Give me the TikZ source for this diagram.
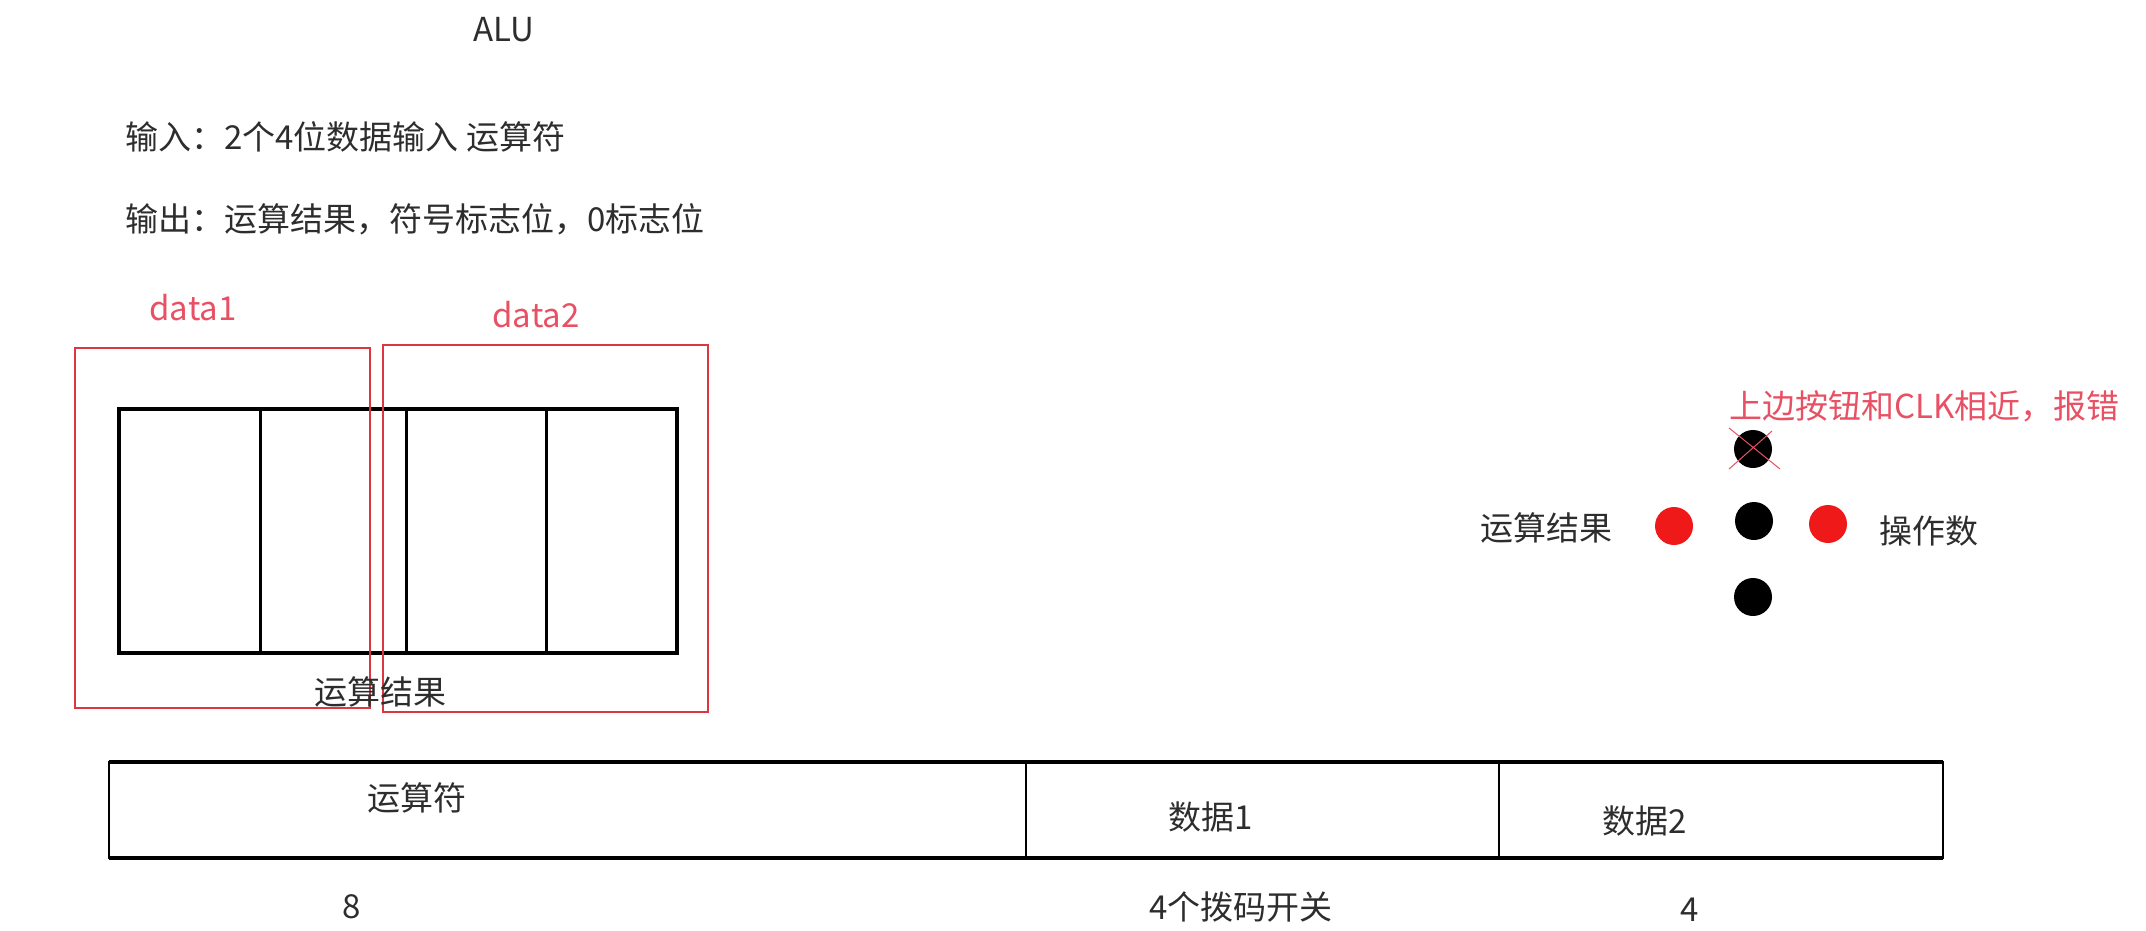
\documentclass[tikz,border=0pt]{standalone}
\usepackage{fontspec}
\setmainfont{Noto Sans CJK SC}
\definecolor{boxred}{RGB}{220, 55, 65}
\definecolor{notered}{RGB}{232, 80, 100}
\definecolor{ledred}{RGB}{240, 25, 25}
\definecolor{inkgray}{RGB}{45, 45, 45}

\begin{document}
\begin{tikzpicture}[x=0.5pt, y=-0.5pt, font=\fontsize{16.5}{20}\selectfont, text=inkgray]
  \useasboundingbox (0,0) rectangle (2146,931);
  % heading and notes
  \node (alu) at (504,30) {ALU};
  \node[anchor=west] (inp) at (118,137) {输入：2个4位数据输入 运算符};
  \node[anchor=west] (outp) at (118,219) {输出：运算结果，符号标志位，0标志位};
  % four digit display
  \coordinate (S1) at (119,409);
  \coordinate (S2) at (677,653);
  \draw[line width=2pt] (S1) rectangle (S2);
  \foreach \x in {260,406,546} \draw[line width=1.5pt] (\x,409) -- (\x,653);
  \draw[boxred, line width=1pt] (75,348) rectangle (370,708);
  \draw[boxred, line width=1pt] (383,345) rectangle (708,712);
  \node[text=notered] (d1) at (193,308) {data1};
  \node[text=notered] (d2) at (536,315) {data2};
  \node (res) at (380,692) {运算结果};
  % switch row
  \coordinate (W1) at (109,762);
  \coordinate (W2) at (1943,858);
  \draw[line width=1pt] (W1) rectangle (W2);
  \draw[line width=2pt] (109,762) -- (1943,762) (109,858) -- (1943,858);
  \foreach \x in {1026,1499} \draw[line width=1pt] (\x,762) -- (\x,858);
  \node (op) at (417,798) {运算符};
  \node (da) at (1211,817) {数据1};
  \node (db) at (1645,821) {数据2};
  \node (n8) at (352,907) {8};
  \node (sw) at (1241,907) {4个拨码开关};
  \node (n4) at (1690,910) {4};
  % buttons
  \tikzset{btn/.style={circle, fill=#1, minimum size=19pt, inner sep=0pt}}
  \node[btn=black] (up) at (1753,449) {};
  \node[btn=black] (mid) at (1754,521) {};
  \node[btn=black] (dn) at (1753,597) {};
  \node[btn=ledred] (lt) at (1674,526) {};
  \node[btn=ledred] (rt) at (1828,524) {};
  \node[anchor=east] (lres) at (1620,528) {运算结果};
  \node[anchor=west] (ropd) at (1872,531) {操作数};
  \node[anchor=west, text=notered] (warn) at (1722,406) {上边按钮和CLK相近，报错};
  \draw[notered, line width=0.5pt] (1729,428) -- (1780,469) (1729,469) -- (1772,431);
\end{tikzpicture}
\end{document}
